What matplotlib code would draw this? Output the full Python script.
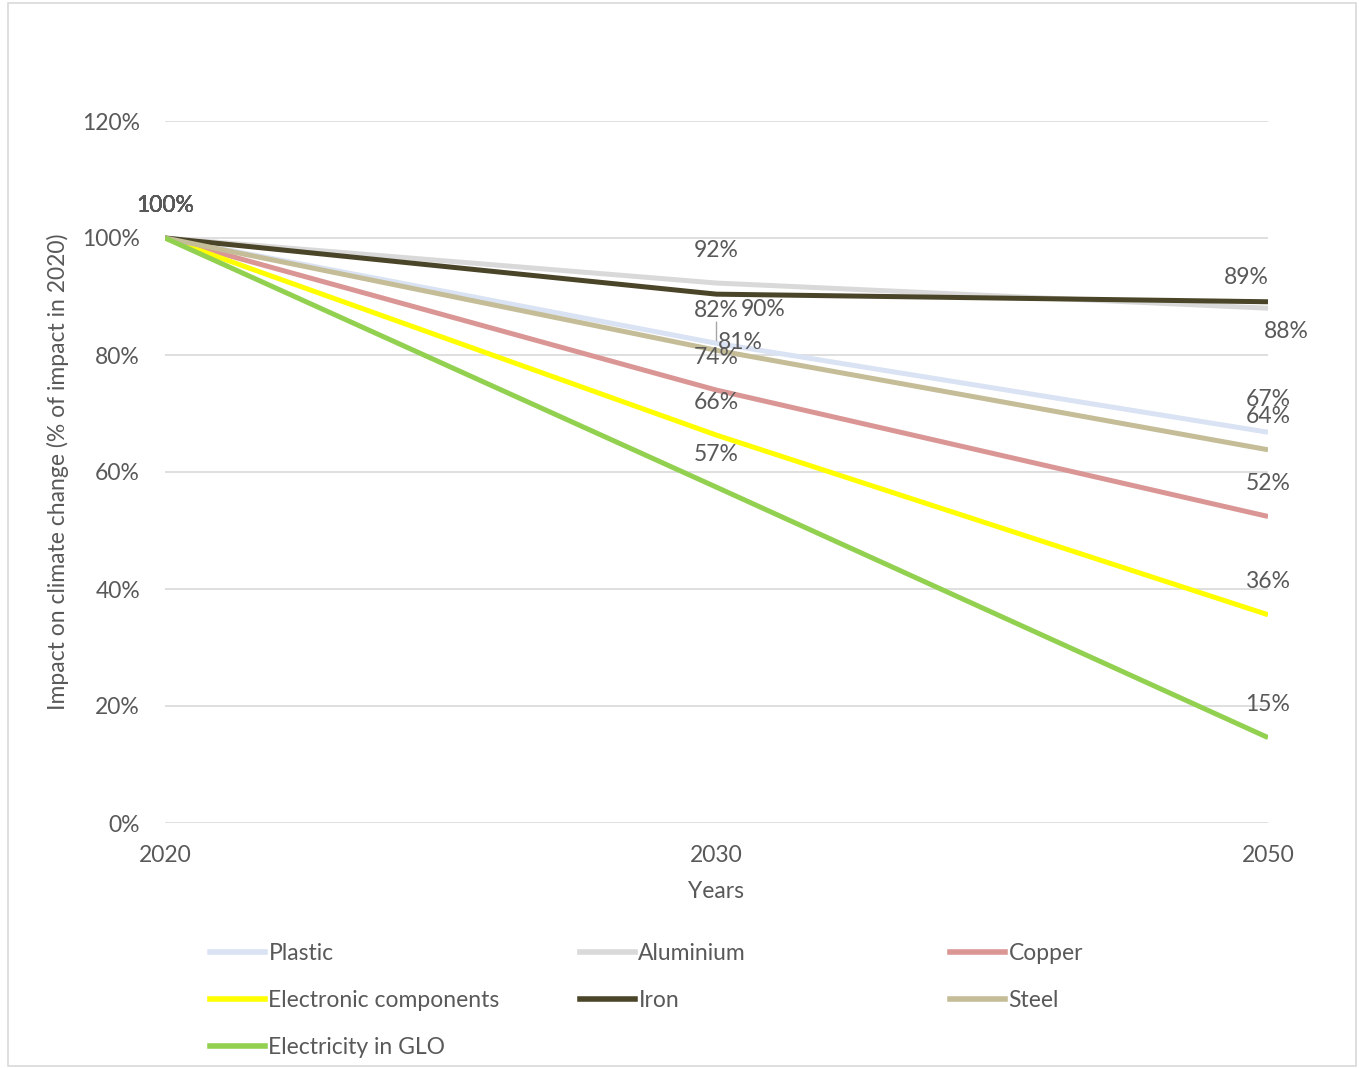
import matplotlib
matplotlib.use('Agg')
import matplotlib.pyplot as plt
from matplotlib.lines import Line2D
from matplotlib.patches import Rectangle

plt.rcParams['font.family'] = ['Lato', 'DejaVu Sans']

# data (share of 2020 impact)
years = ['2020', '2030', '2050']
plastic = [1.00, 0.820, 0.668]
aluminium = [1.00, 0.923, 0.880]
copper = [1.00, 0.740, 0.524]
electronic = [1.00, 0.663, 0.356]
iron = [1.00, 0.904, 0.891]
steel = [1.00, 0.808, 0.638]
electricity = [1.00, 0.574, 0.146]

names = ['Plastic', 'Aluminium', 'Copper', 'Electronic components',
         'Iron', 'Steel', 'Electricity in GLO']
series = [plastic, aluminium, copper, electronic, iron, steel, electricity]
colors = ['#DAE3F3', '#D9D9D9', '#DA9694', '#FFFF00',
          '#4A4528', '#C4BD97', '#92D050']

txt = '#595959'
fs = 16.5

# label offsets in pixels, default is just above the point
offsets = {
    ('Iron', 1): (47, -15),
    ('Steel', 1): (24, 8),
    ('Iron', 2): (-22, 24),
    ('Aluminium', 2): (18, -23),
}

fig = plt.figure(figsize=(13.59, 10.68), dpi=100)
ax = fig.add_axes([165 / 1359, 1 - 823 / 1068, (1268 - 165) / 1359, (823 - 121) / 1068])

x = list(range(len(years)))
handles = {}
for name, vals, c in zip(names, series, colors):
    ln, = ax.plot(x, vals, color=c, lw=3.6, solid_capstyle='butt')
    handles[name] = ln
    for i, v in enumerate(vals):
        dx, dy = offsets.get((name, i), (0, 33))
        ax.annotate('%.0f%%' % (v * 100), (i, v), xytext=(dx, dy),
                    textcoords='offset pixels', ha='center', va='center',
                    fontsize=fs, color=txt)

# leader line for the plastic label at 2030
ax.annotate('', (1, plastic[1]), xytext=(0, 24), textcoords='offset pixels',
            arrowprops=dict(arrowstyle='-', color='#A6A6A6', lw=1))

ax.set_xlim(0, 2)
ax.set_ylim(0, 1.2)
ax.set_xticks(x)
ax.set_xticklabels(years)
ax.set_yticks([0, 0.2, 0.4, 0.6, 0.8, 1.0, 1.2])
ax.set_yticklabels(['0%', '20%', '40%', '60%', '80%', '100%', '120%'])
ax.tick_params(length=0, labelsize=fs, labelcolor=txt)
ax.tick_params(axis='x', pad=16)
ax.tick_params(axis='y', pad=18)
ax.grid(axis='y', color='#D9D9D9', lw=1.2)
ax.set_axisbelow(True)
for s in ax.spines.values():
    s.set_visible(False)

ax.set_xlabel('Years', fontsize=fs, color=txt, labelpad=11)
ax.set_ylabel('Impact on climate change (% of impact in 2020)', fontsize=fs,
              color=txt, labelpad=9)

# legend in three columns, each its own legend so the columns are even
cols = [['Plastic', 'Electronic components', 'Electricity in GLO'],
        ['Aluminium', 'Iron'],
        ['Copper', 'Steel']]
xs = [199, 569, 939]
for col, x0 in zip(cols, xs):
    hs = [Line2D([], [], color=handles[n].get_color(), lw=4) for n in col]
    leg = fig.legend(hs, col, loc='upper left',
                     bbox_to_anchor=(x0 / 1359, 1 - 932 / 1068),
                     frameon=False, fontsize=fs, handlelength=2.4,
                     handletextpad=0.13, labelspacing=1.12, borderpad=0)
    for t in leg.get_texts():
        t.set_color(txt)

fig.patches.append(Rectangle((8 / 1359, 2 / 1068), 1348 / 1359, 1063 / 1068,
                             transform=fig.transFigure, fill=False,
                             edgecolor='#D9D9D9', lw=1.2))

fig.savefig('out.png', dpi=100)
